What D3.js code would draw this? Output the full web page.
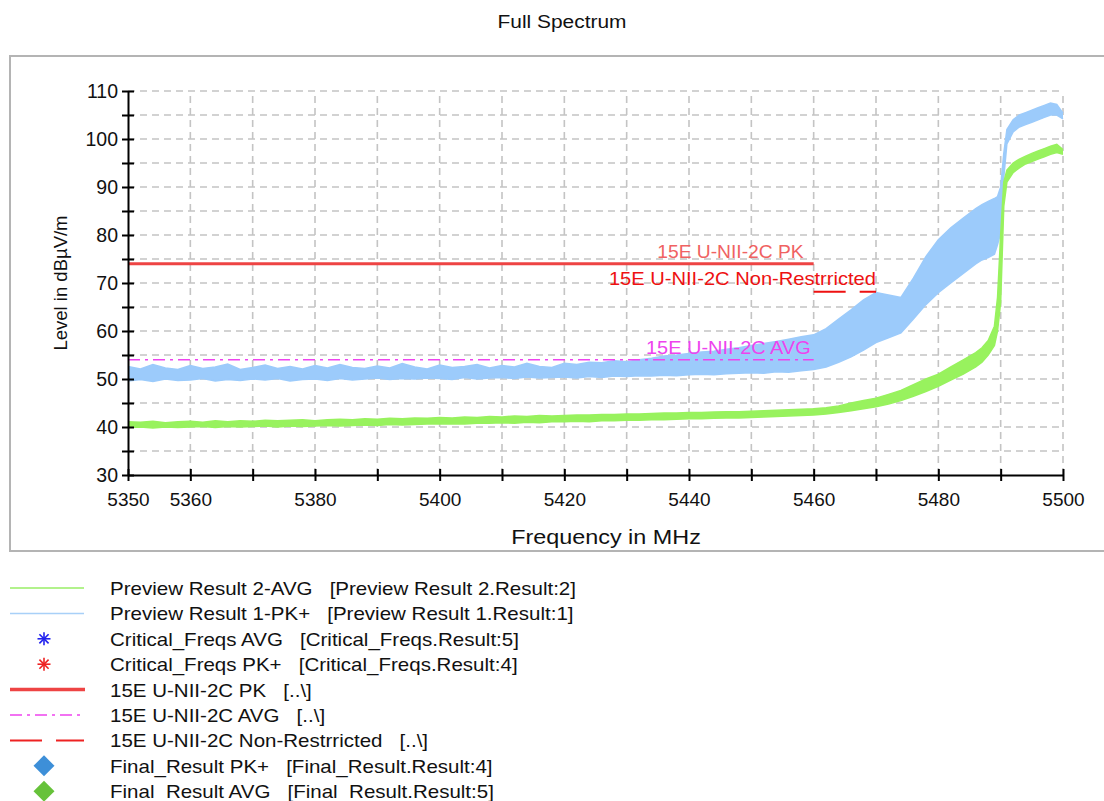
<!DOCTYPE html>
<html>
<head>
<meta charset="utf-8">
<script src="https://cdn.jsdelivr.net/npm/d3@7"></script>
<style>
  html, body { margin: 0; padding: 0; background: #fff; }
  svg { display: block; font-family: "Liberation Sans", Arial, sans-serif; }
</style>
</head>
<body>
<svg id="chart" width="1104" height="801"></svg>
<script>
// ---------------- data ----------------
const title = "Full Spectrum";
const xLabel = "Frequency in MHz";
const yLabel = "Level in dBµV/m";

const xTickValues = [5350,5360,5370,5380,5390,5400,5410,5420,5430,5440,5450,5460,5470,5480,5490,5500];
const xTickLabels = [5350,5360,5380,5400,5420,5440,5460,5480,5500];
const yTickValues = [30,35,40,45,50,55,60,65,70,75,80,85,90,95,100,105,110];
const yTickLabels = [30,40,50,60,70,80,90,100,110];

const freq = [5350,5352,5354,5356,5358,5360,5362,5364,5366,5368,5370,5372,5374,5376,5378,5380,5382,5384,5386,5388,
  5390,5392,5394,5396,5398,5400,5402,5404,5406,5408,5410,5412,5414,5416,5418,5420,5422,5424,5426,5428,
  5430,5432,5434,5436,5438,5440,5442,5444,5446,5448,5450,5452,5454,5456,5458,5460,
  5462,5464,5466,5468,5470,5472,5474,5476,5478,5480,5482,5484,5486,
  5487,5488,5489,5489.5,5490,5490.5,5491,5492,5493,5494,5495,5496,5497,5498,5499,5500];

// Preview Result 1-PK+ (light blue) : lower / upper envelope
const pkLow = [49.6,49.9,49.5,50.0,49.7,49.8,50.1,49.6,49.9,49.7,50.0,49.8,50.1,49.6,49.9,50.0,49.7,50.1,49.8,50.0,
  50.2,49.9,50.1,50.0,50.2,50.1,49.9,50.3,50.0,50.2,50.3,50.1,50.4,50.2,50.3,50.4,50.2,50.5,50.3,50.6,
  50.5,50.7,50.6,50.8,50.7,50.9,51.0,50.9,51.1,51.2,51.3,51.2,51.5,51.4,51.7,52.0,
  52.5,53.5,54.6,56.0,57.6,58.6,59.6,62.5,65.5,68.0,70.0,72.0,74.0,
  74.8,75.3,76.0,78.0,80.5,92.0,99.0,101.5,102.5,103.0,103.5,104.0,104.5,105.0,105.0,104.2];
const pkHigh = [52.6,52.1,53.0,52.3,52.0,52.8,52.2,52.5,53.1,52.0,52.4,52.9,52.2,52.6,52.1,52.8,52.3,53.0,52.4,52.2,
  52.7,52.3,53.2,52.5,52.1,52.9,52.4,52.6,53.0,52.3,52.8,52.5,53.3,52.6,52.4,53.3,53.0,53.5,53.4,53.8,
  53.6,54.0,54.3,54.8,55.0,55.3,55.6,55.8,56.2,56.5,57.0,57.4,57.8,58.3,58.8,59.2,
  60.5,62.5,64.4,66.5,68.0,67.5,67.0,71.0,75.5,79.0,81.5,83.5,85.5,
  86.3,87.0,87.6,88.0,90.0,97.0,102.0,104.0,105.0,105.5,106.0,106.5,107.0,107.5,107.2,105.4];

// Preview Result 2-AVG (green) : lower / upper envelope
const avLow = [39.9,40.0,39.8,40.0,39.9,40.0,40.1,39.9,40.1,40.0,40.1,40.2,40.0,40.2,40.1,40.2,40.3,40.2,40.3,40.4,
  40.3,40.5,40.4,40.5,40.6,40.6,40.7,40.6,40.8,40.8,40.9,40.8,41.0,40.9,41.1,41.1,41.2,41.1,41.3,41.3,
  41.4,41.4,41.5,41.5,41.6,41.7,41.7,41.8,41.9,41.9,42.0,42.1,42.2,42.3,42.4,42.5,
  42.7,43.0,43.4,43.8,44.2,44.8,45.5,46.4,47.4,48.5,49.8,51.0,52.5,
  53.5,55.0,57.0,60.0,66.0,86.0,91.0,93.0,94.0,94.8,95.3,95.8,96.3,96.8,97.2,96.8];
const avHigh = [41.1,41.0,41.2,40.9,41.1,41.2,41.0,41.3,41.1,41.3,41.2,41.4,41.3,41.4,41.5,41.3,41.5,41.6,41.5,41.7,
  41.6,41.8,41.7,41.9,41.8,42.0,41.9,42.1,42.0,42.2,42.1,42.3,42.2,42.4,42.3,42.4,42.5,42.5,42.6,42.6,
  42.7,42.7,42.8,42.9,42.9,43.0,43.0,43.1,43.2,43.2,43.3,43.4,43.5,43.6,43.7,43.8,
  44.0,44.4,45.0,45.5,46.0,46.8,47.6,48.8,50.0,51.0,52.5,54.0,55.5,
  56.5,58.0,61.0,67.0,80.0,91.0,93.5,95.0,95.8,96.4,97.0,97.5,98.0,98.5,98.9,97.8];

// Limit lines
const limPK = { name: "15E U-NII-2C PK", from: 5350, to: 5460, level: 74 };
const limAVG = { name: "15E U-NII-2C AVG", from: 5350, to: 5460, level: 54 };
const limNR = { name: "15E U-NII-2C Non-Restrricted", from: 5460, to: 5470, level: 68.2 };

// Legend
const legendNames = [
  "Preview Result 2-AVG   [Preview Result 2.Result:2]",
  "Preview Result 1-PK+   [Preview Result 1.Result:1]",
  "Critical_Freqs AVG   [Critical_Freqs.Result:5]",
  "Critical_Freqs PK+   [Critical_Freqs.Result:4]",
  "15E U-NII-2C PK   [..\\]",
  "15E U-NII-2C AVG   [..\\]",
  "15E U-NII-2C Non-Restrricted   [..\\]",
  "Final_Result PK+   [Final_Result.Result:4]",
  "Final_Result AVG   [Final_Result.Result:5]"
];
const legendKinds = ["line","line","star","star","thick","dashdot","dash","diamond","diamond"];
const legendColors = ["#99ee66","#a8d0f8","#2222ee","#ee2222","#ee4444","#ee44ee","#ee2222","#3d8fd8","#66c23a"];

// ---------------- drawing ----------------
const svg = d3.select("#chart");
const plot = { left: 128, right: 1063, top: 91, bottom: 475 };

const x = d3.scaleLinear().domain([5350, 5500]).range([plot.left, plot.right]);
const y = d3.scaleLinear().domain([30, 110]).range([plot.bottom, plot.top]);

// text helper with horizontal stretch
function addText(parent, tx, ty, str, opt) {
  const g = parent.append("g").attr("transform", `translate(${tx},${ty}) scale(${opt.sx || 1},1)${opt.rot ? " rotate(" + opt.rot + ")" : ""}`);
  return g.append("text").attr("x", 0).attr("y", 0)
    .attr("text-anchor", opt.anchor || "start")
    .attr("font-size", opt.size).attr("fill", opt.fill || "#111")
    .attr("xml:space", "preserve").style("white-space", "pre")
    .text(str);
}

// frame
svg.append("rect").attr("x", 10).attr("y", 56).attr("width", 1110).attr("height", 495)
  .attr("fill", "none").attr("stroke", "#b4b4b4").attr("stroke-width", 2);

// title
addText(svg, 562, 28, title, { size: 19, anchor: "middle", sx: 1.1 });

// grid
const grid = svg.append("g").attr("stroke", "#c4c4c4").attr("stroke-width", 1.6).attr("stroke-dasharray", "7,5");
xTickValues.filter(v => v > 5350).forEach(v => {
  grid.append("line").attr("x1", x(v)).attr("x2", x(v)).attr("y1", plot.bottom).attr("y2", plot.top);
});
yTickValues.filter(v => v > 30).forEach(v => {
  grid.append("line").attr("x1", plot.left).attr("x2", plot.right).attr("y1", y(v)).attr("y2", y(v));
});

// traces
const band = (lo, hi) => d3.area().x((d, i) => x(freq[i])).y0((d, i) => y(lo[i])).y1((d, i) => y(hi[i]));
const edge = arr => d3.line().x((d, i) => x(freq[i])).y((d, i) => y(arr[i]));

svg.append("path").datum(freq).attr("d", band(pkLow, pkHigh)).attr("fill", "#9ccbfb");
svg.append("path").datum(freq).attr("d", edge(pkLow)).attr("fill", "none").attr("stroke", "#9ccbfb").attr("stroke-width", 1.5);
svg.append("path").datum(freq).attr("d", edge(pkHigh)).attr("fill", "none").attr("stroke", "#9ccbfb").attr("stroke-width", 1.5);

svg.append("path").datum(freq).attr("d", band(avLow, avHigh)).attr("fill", "#98f25e");
svg.append("path").datum(freq).attr("d", edge(avLow)).attr("fill", "none").attr("stroke", "#98f25e").attr("stroke-width", 1.5);
svg.append("path").datum(freq).attr("d", edge(avHigh)).attr("fill", "none").attr("stroke", "#98f25e").attr("stroke-width", 1.5);

// limit lines
svg.append("line").attr("x1", x(limPK.from)).attr("x2", x(limPK.to)).attr("y1", y(limPK.level)).attr("y2", y(limPK.level))
  .attr("stroke", "#ee4444").attr("stroke-width", 3);
svg.append("line").attr("x1", x(limAVG.from)).attr("x2", x(limAVG.to)).attr("y1", y(limAVG.level)).attr("y2", y(limAVG.level))
  .attr("stroke", "#ee44ee").attr("stroke-width", 1.5).attr("stroke-dasharray", "12,5,3,5");
svg.append("line").attr("x1", x(limNR.from)).attr("x2", x(limNR.to)).attr("y1", y(limNR.level)).attr("y2", y(limNR.level))
  .attr("stroke", "#ee1111").attr("stroke-width", 2).attr("stroke-dasharray", "32,14");

addText(svg, x(limPK.to) - 10, y(limPK.level) - 6, limPK.name, { size: 17.5, anchor: "end", sx: 1.1, fill: "#f06262" });
addText(svg, x(limNR.to), y(limNR.level) - 7, limNR.name, { size: 17.5, anchor: "end", sx: 1.15, fill: "#ee1111" });
addText(svg, x(limAVG.to) - 3, y(limAVG.level) - 6, limAVG.name, { size: 17.5, anchor: "end", sx: 1.14, fill: "#ee44ee" });

// axes
const xAxis = d3.axisBottom(x).tickValues(xTickValues).tickSize(0)
  .tickFormat(d => xTickLabels.includes(d) ? d : "");
const gx = svg.append("g").attr("transform", `translate(0,${plot.bottom})`).call(xAxis);
gx.select(".domain").attr("stroke", "#000").attr("stroke-width", 2);
gx.selectAll(".tick text").attr("font-size", 19).attr("fill", "#111").attr("dy", "1.45em")
  .attr("font-family", "'Liberation Sans', Arial, sans-serif");
gx.selectAll(".tick").append("line").attr("y1", -6).attr("y2", 6).attr("stroke", "#000").attr("stroke-width", 2);

const yAxis = d3.axisLeft(y).tickValues(yTickValues).tickSize(0)
  .tickFormat(d => yTickLabels.includes(d) ? d : "");
const gy = svg.append("g").attr("transform", `translate(${plot.left},0)`).call(yAxis);
gy.select(".domain").attr("stroke", "#000").attr("stroke-width", 2);
gy.selectAll(".tick text").attr("font-size", 19.5).attr("fill", "#111").attr("x", -10)
  .attr("font-family", "'Liberation Sans', Arial, sans-serif");
gy.selectAll(".tick").append("line").attr("x1", -6).attr("x2", 6).attr("stroke", "#000").attr("stroke-width", 2);

// axis titles
addText(svg, 606, 544, xLabel, { size: 20, anchor: "middle", sx: 1.17 });
svg.append("text").attr("transform", `translate(67,283) rotate(-90)`).attr("text-anchor", "middle")
  .attr("font-size", 18.5).attr("fill", "#111").text(yLabel);

// legend
const lg = svg.append("g");
legendNames.forEach((name, i) => {
  const cy = 588 + i * 25.4;
  const kind = legendKinds[i], col = legendColors[i];
  const row = lg.append("g");
  if (kind === "line") {
    row.append("line").attr("x1", 10).attr("x2", 84).attr("y1", cy).attr("y2", cy).attr("stroke", col).attr("stroke-width", 1.5);
  } else if (kind === "thick") {
    row.append("line").attr("x1", 10).attr("x2", 85).attr("y1", cy).attr("y2", cy).attr("stroke", col).attr("stroke-width", 3.5);
  } else if (kind === "dashdot") {
    row.append("line").attr("x1", 10).attr("x2", 84).attr("y1", cy).attr("y2", cy).attr("stroke", col).attr("stroke-width", 1.5).attr("stroke-dasharray", "12,5,3,5");
  } else if (kind === "dash") {
    row.append("line").attr("x1", 10).attr("x2", 84).attr("y1", cy).attr("y2", cy).attr("stroke", col).attr("stroke-width", 2).attr("stroke-dasharray", "32,14");
  } else if (kind === "star") {
    const cx = 44, r = 6.5;
    [0, 45, 90, 135].forEach(a => {
      const rad = a * Math.PI / 180;
      row.append("line").attr("x1", cx - r * Math.cos(rad)).attr("y1", cy - r * Math.sin(rad))
        .attr("x2", cx + r * Math.cos(rad)).attr("y2", cy + r * Math.sin(rad))
        .attr("stroke", col).attr("stroke-width", 1.6);
    });
  } else if (kind === "diamond") {
    row.append("path").attr("d", d3.symbol(d3.symbolDiamond2, 280)()).attr("transform", `translate(44,${cy})`).attr("fill", col);
  }
  addText(row, 110, cy + 7, name, { size: 18, sx: 1.14 });
});
</script>
</body>
</html>
